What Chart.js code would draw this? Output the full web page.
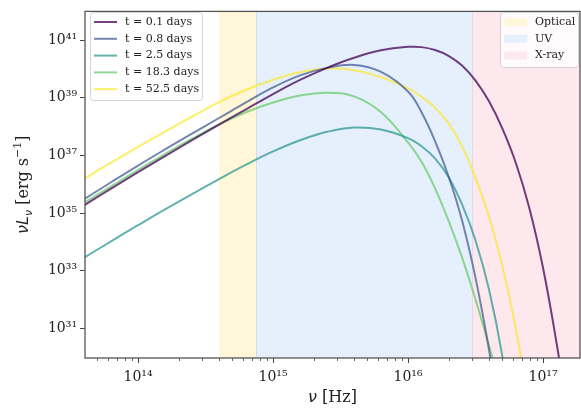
<!DOCTYPE html>
<html>
<head>
<meta charset="utf-8">
<script src="https://cdn.jsdelivr.net/npm/chart.js@4.4.1/dist/chart.umd.min.js"></script>
<style>
  html, body { margin: 0; padding: 0; background: #fff; }
</style>
</head>
<body>
<canvas id="sed" width="581" height="409"></canvas>
<script>
// log10 of frequency (Hz) where the curves were read
const logNu = [13.6, 13.8, 14.0, 14.2, 14.4, 14.6, 14.8, 15.0, 15.2, 15.4, 15.6, 15.8,
  16.0, 16.1, 16.2, 16.3, 16.4, 16.5, 16.6, 16.7, 16.8, 16.9, 17.0, 17.1, 17.2];

// log10 of nu L_nu (erg/s), one array per epoch
const days = [0.1, 0.8, 2.5, 18.3, 52.5];
const lum01 = [35.27, 35.85, 36.42, 36.98, 37.53, 38.07, 38.60, 39.13, 39.62, 40.04, 40.39, 40.65,
  40.77, 40.76, 40.66, 40.46, 40.12, 39.60, 38.88, 37.92, 36.72, 35.15, 33.10, 30.50, 27.5];
const lum08 = [35.48, 36.07, 36.65, 37.21, 37.76, 38.30, 38.84, 39.36, 39.78, 40.04, 40.14, 39.90,
  39.22, 38.50, 37.50, 36.28, 34.75, 32.75, 30.25, 27.2, null, null, null, null, null];
const lum25 = [33.45, 34.02, 34.58, 35.13, 35.66, 36.18, 36.68, 37.14, 37.53, 37.82, 37.97, 37.90,
  37.60, 37.32, 36.90, 36.25, 35.30, 34.05, 32.35, 30.00, 26.8, null, null, null, null];
const lum183 = [35.36, 35.93, 36.50, 37.05, 37.58, 38.08, 38.50, 38.84, 39.08, 39.18, 39.05, 38.50,
  37.45, 36.78, 35.86, 34.74, 33.46, 32.00, 30.40, 28.7, null, null, null, null, null];
const lum525 = [36.19, 36.75, 37.30, 37.83, 38.35, 38.85, 39.28, 39.63, 39.89, 40.02, 39.96, 39.72,
  39.33, 39.04, 38.66, 38.12, 37.32, 36.22, 34.87, 33.15, 30.95, 28.2, null, null, null];
const lumSeries = [lum01, lum08, lum25, lum183, lum525];

// wavelength bands (Hz)
const bandNames = ['Optical', 'UV', 'X-ray'];
const bandStart = [4.0e14, 7.5e14, 3.0e16];
const bandEnd = [7.5e14, 3.0e16, 1.0e18];

// axis ticks
const xMajor = [1e14, 1e15, 1e16, 1e17];
const yMajor = [1e31, 1e33, 1e35, 1e37, 1e39, 1e41];

const lineColors = ['rgba(68,1,84,0.75)', 'rgba(59,82,139,0.7)', 'rgba(33,145,140,0.7)',
  'rgba(94,201,98,0.7)', 'rgba(253,231,37,0.7)'];
const bandColors = ['#fff7d7', '#e6f0fd', '#fce8ed'];
const serif = '"DejaVu Serif", "Liberation Serif", serif';

const SUP = '⁰¹²³⁴⁵⁶⁷⁸⁹';
function powLabel(v) {
  const e = Math.round(Math.log10(v));
  return '10' + String(e).split('').map(d => SUP[+d]).join('');
}

const datasets = lumSeries.map((ys, i) => ({
  label: 't = ' + days[i] + ' days',
  data: logNu.map((v, j) => ({ x: Math.pow(10, v), y: ys[j] == null ? null : Math.pow(10, ys[j]) })),
  borderColor: lineColors[i],
  borderWidth: 2,
  pointRadius: 0,
  tension: 0.4,
  fill: false,
}));

function roundBox(ctx, x, y, w, h, r) {
  ctx.beginPath();
  ctx.moveTo(x + r, y);
  ctx.arcTo(x + w, y, x + w, y + h, r);
  ctx.arcTo(x + w, y + h, x, y + h, r);
  ctx.arcTo(x, y + h, x, y, r);
  ctx.arcTo(x, y, x + w, y, r);
  ctx.closePath();
  ctx.fillStyle = 'rgba(255,255,255,0.8)';
  ctx.fill();
  ctx.strokeStyle = '#d4d4d4';
  ctx.lineWidth = 1;
  ctx.stroke();
}

const bandsPlugin = {
  id: 'bands',
  beforeDraw(chart) {
    const { ctx, chartArea: a, scales: { x } } = chart;
    ctx.save();
    bandNames.forEach((n, i) => {
      const x0 = Math.max(a.left, x.getPixelForValue(bandStart[i]));
      const x1 = Math.min(a.right, x.getPixelForValue(bandEnd[i]));
      ctx.fillStyle = bandColors[i];
      ctx.fillRect(x0, a.top, x1 - x0, a.bottom - a.top);
    });
    // faint edges between bands
    ctx.strokeStyle = 'rgba(180,180,200,0.35)';
    ctx.lineWidth = 1;
    [bandStart[1], bandStart[2]].forEach(v => {
      const px = Math.round(x.getPixelForValue(v)) + 0.5;
      ctx.beginPath(); ctx.moveTo(px, a.top); ctx.lineTo(px, a.bottom); ctx.stroke();
    });
    ctx.restore();
  }
};

const framePlugin = {
  id: 'frame',
  afterDraw(chart) {
    const { ctx, chartArea: a, scales: { x } } = chart;
    ctx.save();
    // minor x ticks
    ctx.strokeStyle = '#444';
    ctx.lineWidth = 0.8;
    for (let e = 13; e <= 17; e++) {
      for (let k = 2; k <= 9; k++) {
        const v = k * Math.pow(10, e);
        if (v < x.min || v > x.max) continue;
        const px = Math.round(x.getPixelForValue(v)) + 0.5;
        ctx.beginPath(); ctx.moveTo(px, a.bottom); ctx.lineTo(px, a.bottom + 3); ctx.stroke();
      }
    }
    // spines
    ctx.strokeStyle = '#555';
    ctx.lineWidth = 1.3;
    ctx.strokeRect(a.left, a.top, a.right - a.left, a.bottom - a.top);

    // curve legend
    roundBox(ctx, 90.5, 12.5, 112, 88, 3);
    ctx.font = '11px ' + serif;
    ctx.textBaseline = 'middle';
    ctx.textAlign = 'left';
    datasets.forEach((d, i) => {
      const y = 22 + i * 16.8;
      ctx.strokeStyle = lineColors[i];
      ctx.lineWidth = 2;
      ctx.beginPath(); ctx.moveTo(94, y); ctx.lineTo(117, y); ctx.stroke();
      ctx.fillStyle = '#222';
      ctx.fillText(d.label, 125, y);
    });

    // band legend
    roundBox(ctx, 500.5, 12.5, 78, 55, 3);
    bandNames.forEach((n, i) => {
      const y = 22 + i * 16.8;
      ctx.fillStyle = bandColors[i];
      ctx.fillRect(504, y - 4, 23, 8);
      ctx.fillStyle = '#222';
      ctx.fillText(n, 535, y);
    });

    // axis titles
    ctx.fillStyle = '#222';
    ctx.textBaseline = 'alphabetic';
    const cx = (a.left + a.right) / 2;
    ctx.font = 'italic 16px "DejaVu Sans"';
    const wNu = ctx.measureText('ν').width;
    ctx.font = '16px ' + serif;
    const wHz = ctx.measureText(' [Hz]').width;
    let sx = cx - (wNu + wHz) / 2;
    ctx.font = 'italic 16px "DejaVu Sans"';
    ctx.fillText('ν', sx, 402);
    ctx.font = '16px ' + serif;
    ctx.fillText(' [Hz]', sx + wNu, 402);

    // y title, rotated
    const parts = [
      ['italic 16px "DejaVu Sans"', 'νL', 0],
      ['italic 11px "DejaVu Sans"', 'ν', 4],
      ['16px ' + serif, ' [erg s', 0],
      ['11px ' + serif, '−1', -7],
      ['16px ' + serif, ']', 0],
    ];
    let total = 0;
    parts.forEach(p => { ctx.font = p[0]; total += ctx.measureText(p[1]).width; });
    ctx.translate(28, (a.top + a.bottom) / 2);
    ctx.rotate(-Math.PI / 2);
    let px = -total / 2;
    parts.forEach(p => {
      ctx.font = p[0];
      ctx.fillText(p[1], px, p[2]);
      px += ctx.measureText(p[1]).width;
    });
    ctx.restore();
  }
};

new Chart(document.getElementById('sed'), {
  type: 'line',
  data: { datasets },
  options: {
    responsive: false,
    animation: false,
    events: [],
    layout: { padding: { top: 7, right: 1, left: 0, bottom: 0 } },
    plugins: { legend: { display: false }, tooltip: { enabled: false } },
    scales: {
      x: {
        type: 'logarithmic',
        min: Math.pow(10, 13.607),
        max: Math.pow(10, 17.274),
        afterBuildTicks: s => { s.ticks = xMajor.map(v => ({ value: v })); },
        afterFit: s => { s.height = 51; },
        border: { display: false },
        grid: { drawOnChartArea: false, tickLength: 5, tickColor: '#444', tickWidth: 1 },
        ticks: { callback: v => powLabel(v), font: { family: serif, size: 14 }, color: '#222',
          padding: 6, maxRotation: 0, autoSkip: false },
      },
      y: {
        type: 'logarithmic',
        min: Math.pow(10, 29.97),
        max: Math.pow(10, 42.0),
        afterBuildTicks: s => { s.ticks = yMajor.map(v => ({ value: v })); },
        afterFit: s => { s.width = 85; },
        border: { display: false },
        grid: { drawOnChartArea: false, tickLength: 5, tickColor: '#444', tickWidth: 1 },
        ticks: { callback: v => powLabel(v), font: { family: serif, size: 14 }, color: '#222',
          padding: 3, autoSkip: false },
      },
    },
  },
  plugins: [bandsPlugin, framePlugin],
});
</script>
</body>
</html>
